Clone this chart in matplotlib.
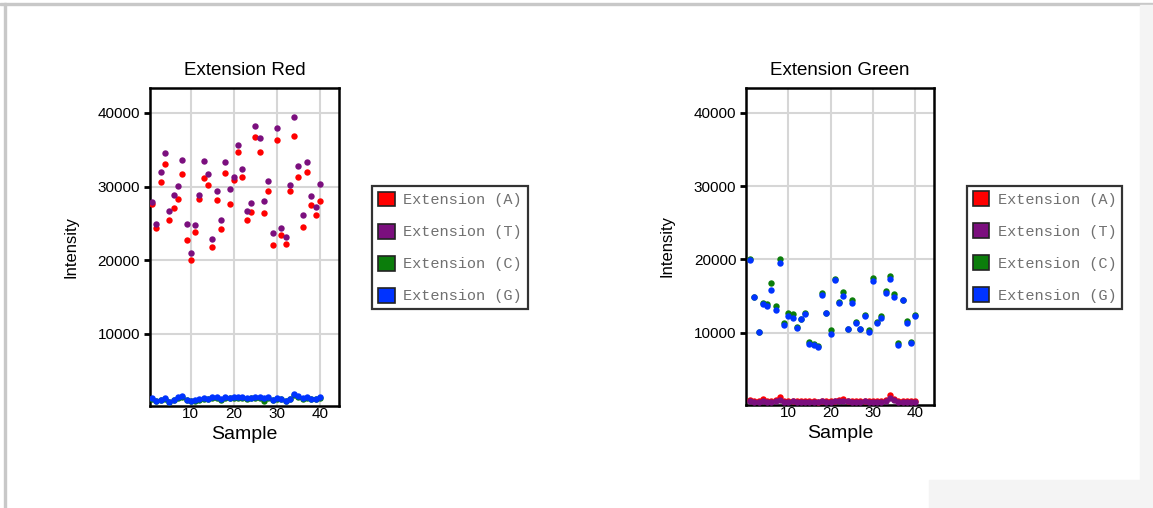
import numpy as np
import matplotlib.pyplot as plt
from matplotlib.patches import Patch, Rectangle

plt.rcParams['font.family'] = ['Liberation Sans', 'DejaVu Sans']

# sample index shared by both panels
samples = np.arange(1, 41)

# Extension Red panel
red_A = [27640, 24360, 30550, 33090, 25450, 27090, 28360, 31640, 22730, 20010,
         23820, 28360, 31090, 30180, 21820, 28180, 24180, 31820, 27640, 30910,
         34730, 31270, 25450, 26550, 36730, 34730, 26360, 29450, 22000, 36360,
         23450, 22180, 29450, 36910, 31270, 24550, 32000, 27450, 26180, 28000]
red_T = [27910, 24910, 32000, 34550, 26730, 28910, 30090, 33640, 24910, 20930,
         24730, 28910, 33450, 31640, 22910, 29450, 25450, 33270, 29640, 31360,
         35640, 32360, 26730, 27820, 38180, 36550, 28000, 30730, 23640, 38000,
         24360, 23090, 30180, 39450, 32730, 26180, 33270, 28730, 27270, 30360]
red_C = [1150, 800, 950, 1100, 650, 900, 1250, 1350, 950, 800,
         850, 1000, 1100, 1050, 1250, 1300, 1000, 1300, 1250, 1300,
         1300, 1250, 1150, 1200, 1300, 1300, 850, 1300, 950, 1100,
         1050, 800, 1050, 1700, 1400, 1150, 1300, 1100, 1100, 1250]
red_G = [1250, 850, 1000, 1200, 700, 950, 1350, 1450, 1000, 850,
         900, 1100, 1200, 1100, 1350, 1350, 1050, 1400, 1300, 1400,
         1400, 1350, 1200, 1300, 1400, 1400, 1300, 1400, 1000, 1200,
         1100, 850, 1100, 1800, 1500, 1250, 1400, 1150, 1150, 1350]

# Extension Green panel
green_A = [800, 750, 700, 900, 650, 750, 800, 1200, 700, 650,
           750, 700, 700, 650, 700, 650, 600, 750, 700, 700,
           750, 850, 900, 750, 750, 700, 700, 750, 700, 650,
           700, 650, 800, 1450, 1000, 700, 650, 650, 650, 650]
green_T = [650, 600, 600, 700, 550, 600, 650, 800, 600, 550,
           650, 600, 600, 550, 600, 550, 550, 650, 600, 600,
           650, 700, 700, 650, 600, 600, 600, 650, 600, 550,
           600, 550, 650, 1100, 850, 600, 550, 550, 550, 550]
green_C = [20100, 14950, 10150, 14050, 13860, 16770, 13640, 20000, 11360, 12730,
           12550, 10800, 11900, 12700, 8770, 8450, 8150, 15450, 12750, 10320,
           17350, 14200, 15550, 10550, 14410, 11450, 10550, 12420, 10410, 17500,
           11420, 12270, 15730, 17680, 15270, 8640, 14500, 11550, 8750, 12370]
green_G = [19900, 14860, 10050, 13950, 13600, 15860, 13140, 19500, 11000, 12230,
           12050, 10680, 11820, 12590, 8500, 8320, 8050, 15140, 12640, 9860,
           17250, 14110, 15000, 10450, 14090, 11360, 10450, 12320, 10140, 17000,
           11320, 11950, 15360, 17360, 14950, 8320, 14410, 11270, 8640, 12270]

labels = ['Extension (A)', 'Extension (T)', 'Extension (C)', 'Extension (G)']
colors = ['#ff0000', '#7b0f7e', '#0b7d0b', '#0033ff']

fig = plt.figure(figsize=(11.53, 5.08), dpi=100)

# screenshot frame bits
fig.patches.append(Rectangle((0.0035, 0.0), 0.0015, 0.994, transform=fig.transFigure,
                             color='#c8c8c8', zorder=0))
fig.patches.append(Rectangle((0.0, 0.991), 1.0, 0.004, transform=fig.transFigure,
                             color='#c8c8c8', zorder=0))
fig.patches.append(Rectangle((0.989, 0.055), 0.011, 0.936, transform=fig.transFigure,
                             color='#f4f4f4', zorder=0))
fig.patches.append(Rectangle((0.806, 0.0), 0.194, 0.055, transform=fig.transFigure,
                             color='#f4f4f4', zorder=0))

panels = [
    ('Extension Red', [0.130, 0.2008, 0.164, 0.626], [red_A, red_T, red_C, red_G], 0.5),
    ('Extension Green', [0.647, 0.2028, 0.163, 0.624], [green_A, green_T, green_C, green_G], 0.0),
]

for title, rect, series, xmin in panels:
    ax = fig.add_axes(rect)
    for vals, c in zip(series, colors):
        ax.plot(samples, vals, 'o', color=c, markersize=4.6, markeredgewidth=0, zorder=3)
    ax.set_xlim(xmin, 44.4)
    ax.set_ylim(150, 43400)
    ax.set_xticks([10, 20, 30, 40])
    ax.set_yticks([10000, 20000, 30000, 40000])
    ax.grid(True, color='#d6d6d6', linewidth=1.5)
    ax.set_axisbelow(True)
    for sp in ax.spines.values():
        sp.set_linewidth(1.8)
        sp.set_color('black')
    ax.tick_params(axis='y', direction='out', length=4, width=2, labelsize=11, pad=3)
    ax.tick_params(axis='x', length=0, labelsize=11, pad=1)
    ax.set_title(title, fontsize=13.5, pad=9)
    ax.set_xlabel('Sample', fontsize=14, labelpad=3)
    ax.set_ylabel('Intensity', fontsize=12, labelpad=14)

    handles = [Patch(facecolor=c, edgecolor='#222222', linewidth=1.2) for c in colors]
    leg = ax.legend(handles, labels, loc='center left', bbox_to_anchor=(1.175, 0.498),
                    prop={'family': 'Liberation Mono', 'size': 11},
                    handlelength=1.1, handleheight=1.1, handletextpad=0.55,
                    labelspacing=1.08, borderpad=0.38, borderaxespad=0,
                    frameon=True, fancybox=False, edgecolor='black')
    leg.get_frame().set_linewidth(1.6)
    for t in leg.get_texts():
        t.set_color('#707070')

fig.savefig('out.png', dpi=100)
